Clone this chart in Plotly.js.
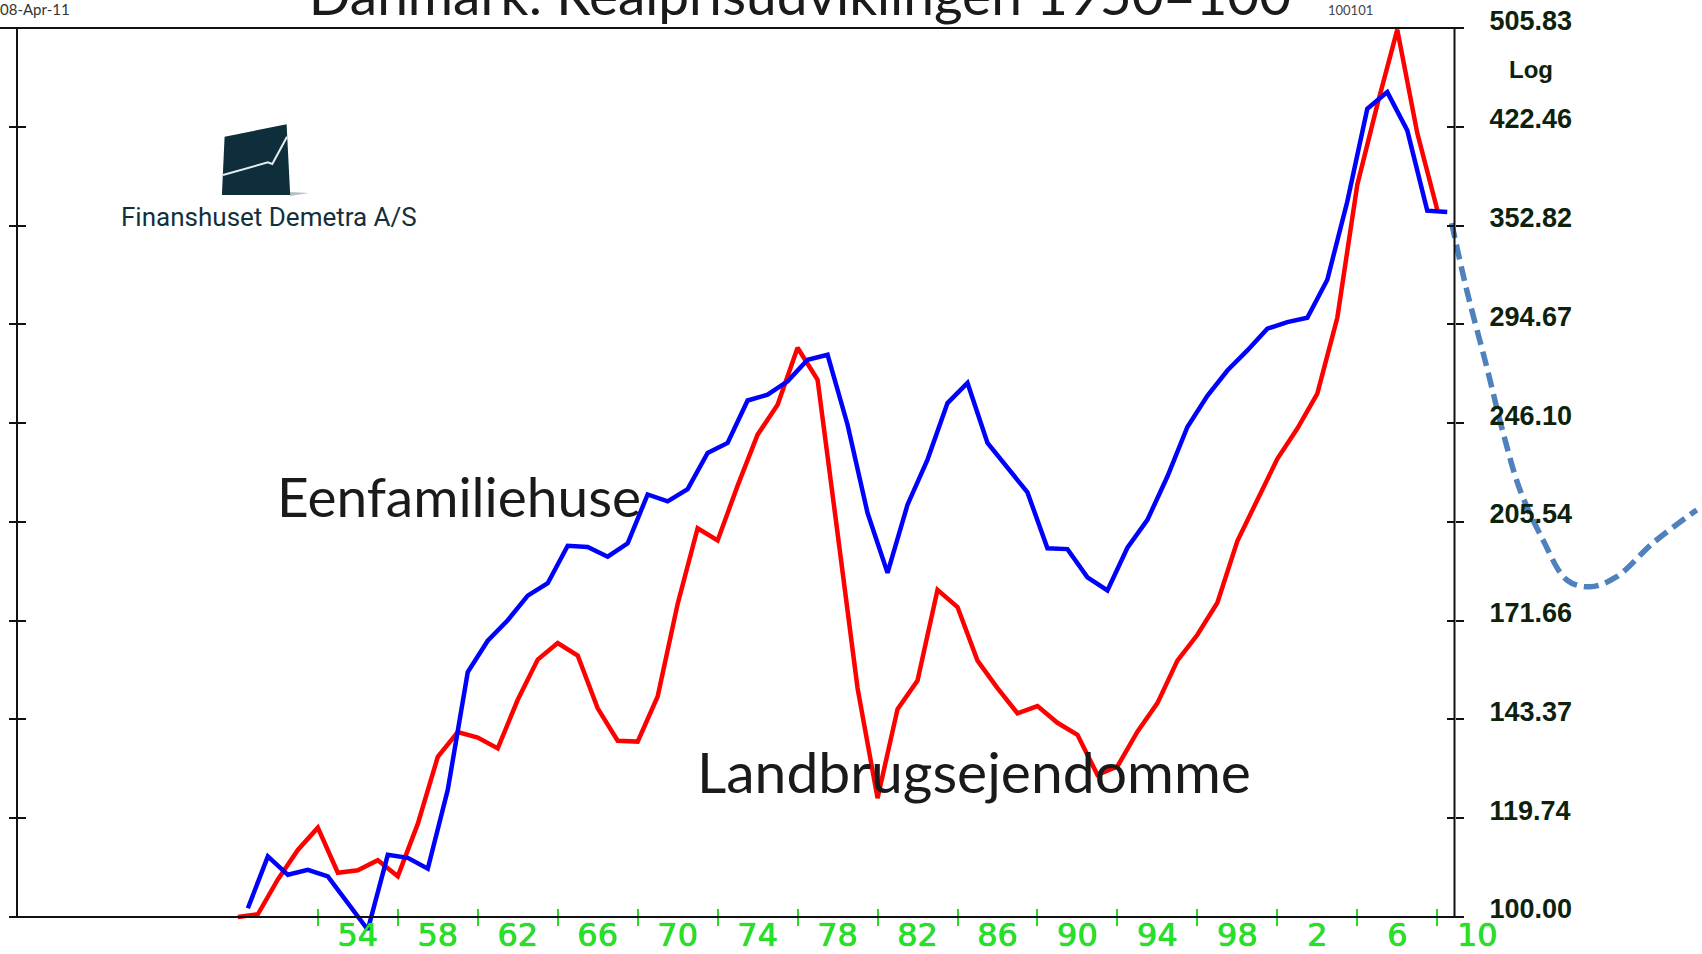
<!DOCTYPE html>
<html>
<head>
<meta charset="utf-8">
<script src="https://cdn.plot.ly/plotly-3.0.1.min.js"></script>
<style>html,body{margin:0;padding:0;background:#fff;}#chart{width:1702px;height:954px;}</style>
</head>
<body>
<div id="chart"></div>
<script>
// ---- data ----
const titleText = "Danmark: Realprisudviklingen 1950=100";
const redName = "Landbrugsejendomme";
const blueName = "Eenfamiliehuse";

const redYears = [1950,1951,1952,1953,1954,1955,1956,1957,1958,1959,
  1960,1961,1962,1963,1964,1965,1966,1967,1968,1969,
  1970,1971,1972,1973,1974,1975,1976,1977,1978,1979,
  1980,1981,1982,1983,1984,1985,1986,1987,1988,1989,
  1990,1991,1992,1993,1994,1995,1996,1997,1998,1999,
  2000,2001,2002,2003,2004,2005,2006,2007,2008,2009,2010];
const redValues = [100.0,100.5,107.1,113.0,117.7,108.4,108.9,110.9,107.7,118.5,
  133.9,140.1,138.7,136.0,148.6,159.9,164.8,161.1,146.3,137.9,
  137.7,149.5,177.0,203.2,198.7,219.6,241.0,254.5,282.4,266.4,
  201.4,151.8,124.2,146.1,153.9,181.6,176.0,159.6,151.8,145.0,
  146.9,142.5,139.4,129.6,131.6,140.2,147.7,159.6,167.3,177.4,
  198.5,214.3,230.6,243.7,259.7,298.3,380.2,439.9,504.4,417.7,363.2];

const blueYears = [1950.5,1951.5,1952.5,1953.5,1954.5,1955.5,1956.5,1957.5,1958.5,1959.5,
  1960.5,1961.5,1962.5,1963.5,1964.5,1965.5,1966.5,1967.5,1968.5,1969.5,
  1970.5,1971.5,1972.5,1973.5,1974.5,1975.5,1976.5,1977.5,1978.5,1979.5,
  1980.5,1981.5,1982.5,1983.5,1984.5,1985.5,1986.5,1987.5,1988.5,1989.5,
  1990.5,1991.5,1992.5,1993.5,1994.5,1995.5,1996.5,1997.5,1998.5,1999.5,
  2000.5,2001.5,2002.5,2003.5,2004.5,2005.5,2006.5,2007.5,2008.5,2009.5,2010.5];
const blueValues = [101.6,111.7,108.0,109.0,107.7,102.5,97.7,112.0,111.4,109.2,
  126.1,156.3,165.5,171.8,179.7,183.8,196.8,196.4,192.9,197.7,
  216.1,213.4,218.2,233.1,237.4,256.5,259.2,265.6,276.3,278.8,
  245.4,208.9,187.3,212.1,230.3,255.3,264.8,237.4,227.0,216.9,
  195.9,195.6,185.8,181.4,196.1,206.3,223.3,244.4,258.7,270.9,
  281.0,292.4,295.9,298.3,319.7,368.7,436.7,450.1,419.8,362.6,361.7];

// hand-drawn projection (dashed)
const projYears  = [2010.72,2011.47,2012.47,2013.30,2014.14,2015.29,2016.48,2017.64,2018.98,2020.79,2022.98];
const projValues = [354.5,313.9,272.9,241.7,217.9,198.9,184.9,182.6,186.0,197.8,210.1];

const xTickYears = [1954,1958,1962,1966,1970,1974,1978,1982,1986,1990,1994,1998,2002,2006,2010];
const xTickText  = ["54","58","62","66","70","74","78","82","86","90","94","98","2","6","10"];
const yTickVals  = [100,119.74,143.37,171.66,205.54,246.10,294.67,352.82,422.46,505.83];
const yTickText  = ["100.00","119.74","143.37","171.66","205.54","246.10","294.67","352.82","422.46","505.83"];

// ---- layout geometry ----
const W = 1702, H = 954;
const xRange = [1938.10, 2023.244];
const yRange = [1.97782, 2.7041];
const plotTop = 28, plotBottom = 945;           // plot area in px
const frameBottomPx = 917;
const pyToPaper = p => (plotBottom - p) / (plotBottom - plotTop);
const pxToPaper = p => p / W;
const baseY = pyToPaper(frameBottomPx);
const rightPos = pxToPaper(1454.5);
const leftPos = pxToPaper(17);

const black = '#111111';
const green = '#22dd22';

const commonY = {type:'log', range:yRange, anchor:'free', tickmode:'array', tickvals:yTickVals,
  ticklen:8, tickwidth:2, tickcolor:black, showline:false, showgrid:false, zeroline:false, fixedrange:true};

const traces = [
  {x:redYears, y:redValues, name:redName, type:'scatter', mode:'lines', xaxis:'x', yaxis:'y',
   line:{color:'#ff0000', width:4.5}, hoverinfo:'x+y'},
  {x:blueYears, y:blueValues, name:blueName, type:'scatter', mode:'lines', xaxis:'x', yaxis:'y2',
   line:{color:'#0000ff', width:4.5}, hoverinfo:'x+y'},
  {x:projYears, y:projValues, name:'Prognose', type:'scatter', mode:'lines', xaxis:'x2', yaxis:'y3',
   line:{color:'#4f81bd', width:5.5, dash:'15px,7px', shape:'spline', smoothing:1}, hoverinfo:'skip'},
  {x:[null], y:[null], type:'scatter', mode:'lines', xaxis:'x', yaxis:'y4', hoverinfo:'skip', showlegend:false}
];

const layout = {
  width:W, height:H,
  margin:{l:0, r:0, t:plotTop, b:H-plotBottom, pad:0},
  paper_bgcolor:'#ffffff', plot_bgcolor:'#ffffff',
  showlegend:false,
  title:{text:titleText, x:0.47, xanchor:'center', xref:'container', y:1, yanchor:'bottom', yref:'paper',
         pad:{b:13, t:0, l:0, r:0}, automargin:false,
         font:{family:'Lato, sans-serif', size:55, color:'#1a1a1a'}},
  xaxis:{range:xRange, anchor:'free', position:baseY, tickmode:'array', tickvals:xTickYears, ticktext:xTickText,
         ticks:'inside', ticklen:8, tickwidth:2, tickcolor:green, ticklabelshift:40, ticklabelstandoff:-4,
         tickfont:{family:'DejaVu Sans, sans-serif', size:32, color:'#22e422', shadow:'0 0 1px #0a8a0a'},
         showline:false, showgrid:false, zeroline:false, fixedrange:true},
  xaxis2:{overlaying:'x', range:xRange, anchor:'free', position:baseY, tickmode:'array', tickvals:xTickYears,
         ticks:'outside', ticklen:8, tickwidth:2, tickcolor:green, showticklabels:false,
         showline:false, showgrid:false, zeroline:false, fixedrange:true},
  yaxis:Object.assign({}, commonY, {position:rightPos, side:'right', ticks:'inside', ticktext:yTickText,
         ticklabelshift:-8, ticklabelstandoff:34,
         tickfont:{family:'Liberation Sans, Arial, sans-serif', size:27, weight:'bold', color:'#0c220c'}}),
  yaxis2:Object.assign({}, commonY, {overlaying:'y', position:rightPos, side:'right', ticks:'outside', showticklabels:false}),
  yaxis3:Object.assign({}, commonY, {overlaying:'y', position:leftPos, side:'left', ticks:'outside', showticklabels:false}),
  yaxis4:Object.assign({}, commonY, {overlaying:'y', position:leftPos, side:'left', ticks:'inside', showticklabels:false}),
  shapes:[
    // frame
    {type:'line', xref:'paper', yref:'paper', x0:0, x1:pxToPaper(1462), y0:1, y1:1, line:{color:black, width:2}},
    {type:'line', xref:'paper', yref:'paper', x0:pxToPaper(9), x1:pxToPaper(1463), y0:baseY, y1:baseY, line:{color:black, width:2}},
    {type:'line', xref:'paper', yref:'paper', x0:leftPos, x1:leftPos, y0:baseY, y1:1, line:{color:black, width:2}},
    {type:'line', xref:'paper', yref:'paper', x0:rightPos, x1:rightPos, y0:baseY, y1:1, line:{color:black, width:2}},
    // logo
    {type:'path', xref:'paper', yref:'paper', layer:'above',
     path:'M '+pxToPaper(290)+' '+pyToPaper(192)+' L '+pxToPaper(309)+' '+pyToPaper(193)+' L '+pxToPaper(290)+' '+pyToPaper(196)+' Z',
     fillcolor:'#b7bfc3', line:{width:0}},
    {type:'path', xref:'paper', yref:'paper', layer:'above',
     path:'M '+pxToPaper(224.6)+' '+pyToPaper(136.7)+' L '+pxToPaper(286.6)+' '+pyToPaper(124.3)+
          ' L '+pxToPaper(290.2)+' '+pyToPaper(195)+' L '+pxToPaper(221.9)+' '+pyToPaper(195)+' Z',
     fillcolor:'#0e2e3b', line:{width:0}},
    {type:'path', xref:'paper', yref:'paper', layer:'above',
     path:'M '+pxToPaper(223)+' '+pyToPaper(175)+' L '+pxToPaper(267.9)+' '+pyToPaper(162.3)+
          ' L '+pxToPaper(272.3)+' '+pyToPaper(164)+' L '+pxToPaper(287)+' '+pyToPaper(136.7),
     line:{color:'#e8eef0', width:2}}
  ],
  annotations:[
    {text:blueName, xref:'paper', yref:'paper', x:pxToPaper(275), xanchor:'left', y:pyToPaper(496.4), yanchor:'middle',
     showarrow:false, font:{family:'Lato, sans-serif', size:55, color:'#1a1a1a'}},
    {text:redName, xref:'paper', yref:'paper', x:pxToPaper(695), xanchor:'left', y:pyToPaper(770.7), yanchor:'middle',
     showarrow:false, font:{family:'Lato, sans-serif', size:57, color:'#1a1a1a'}},
    {text:'Log', xref:'paper', yref:'paper', x:pxToPaper(1531), xanchor:'center', y:pyToPaper(69.7), yanchor:'middle',
     showarrow:false, font:{family:'Liberation Sans, Arial, sans-serif', size:24, weight:'bold', color:'#0c220c'}},
    {text:'08-Apr-11', xref:'paper', yref:'paper', x:pxToPaper(-2), xanchor:'left', y:pyToPaper(9), yanchor:'middle',
     showarrow:false, font:{family:'Lato, sans-serif', size:15, color:'#333333'}},
    {text:'100101', xref:'paper', yref:'paper', x:pxToPaper(1350), xanchor:'center', y:pyToPaper(10), yanchor:'middle',
     showarrow:false, font:{family:'Lato, sans-serif', size:13, color:'#444444'}},
    {text:'Finanshuset Demetra A/S', xref:'paper', yref:'paper', x:pxToPaper(118.5), xanchor:'left', y:pyToPaper(217), yanchor:'middle',
     showarrow:false, font:{family:'Roboto, sans-serif', size:26, color:'#12303c'}}
  ]
};

Plotly.newPlot('chart', traces, layout, {staticPlot:true, displayModeBar:false});
</script>
</body>
</html>
